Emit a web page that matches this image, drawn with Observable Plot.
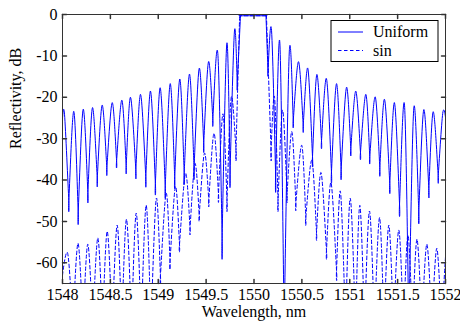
<!DOCTYPE html>
<html><head><meta charset="utf-8">
<script src="https://cdn.jsdelivr.net/npm/d3@7"></script>
<script src="https://cdn.jsdelivr.net/npm/@observablehq/plot@0.6"></script>
<style>
html,body{margin:0;padding:0;background:#fff;}
#chart{width:460px;height:322px;}
</style></head><body><div id="chart"></div>
<script>
const xTicks = [1548, 1548.5, 1549, 1549.5, 1550, 1550.5, 1551, 1551.5, 1552];
const xTickLabels = ["1548", "1548.5", "1549", "1549.5", "1550", "1550.5", "1551", "1551.5", "1552"];
const yTicks = [0, -10, -20, -30, -40, -50, -60];
const yTickLabels = ["0", "-10", "-20", "-30", "-40", "-50", "-60"];
const seriesNames = ["Uniform", "sin"];

const uniformWl = [
  1548.000, 1548.021, 1548.066, 1548.118, 1548.164, 1548.216, 1548.265, 1548.313, 1548.363, 1548.414,
  1548.463, 1548.519, 1548.565, 1548.620, 1548.665, 1548.710, 1548.766, 1548.815, 1548.870, 1548.919,
  1548.970, 1549.020, 1549.073, 1549.125, 1549.172, 1549.225, 1549.271, 1549.326, 1549.374, 1549.428,
  1549.475, 1549.525, 1549.570, 1549.622, 1549.667, 1549.716, 1549.750, 1549.796, 1549.825, 1549.859,
  1550.125, 1550.146, 1550.183, 1550.226, 1550.270, 1550.315, 1550.368, 1550.410, 1550.465, 1550.514,
  1550.562, 1550.611, 1550.656, 1550.705, 1550.757, 1550.809, 1550.862, 1550.910, 1550.966, 1551.011,
  1551.063, 1551.112, 1551.168, 1551.209, 1551.266, 1551.314, 1551.363, 1551.418, 1551.467, 1551.520,
  1551.572, 1551.617, 1551.669, 1551.721, 1551.773, 1551.826, 1551.871, 1551.924, 1551.971, 1552.000
];
const uniformDb = [
  -25.2, -24.1, -45.0, -23.4, -47.7, -22.9, -43.0, -22.5, -39.5, -21.9,
  -37.0, -21.3, -35.3, -20.7, -36.5, -20.0, -37.5, -19.3, -39.2, -18.5,
  -40.8, -17.7, -41.4, -16.7, -39.2, -15.6, -38.2, -14.4, -37.0, -13.0,
  -31.0, -11.4, -25.2, -9.4, -53.5, -7.0, -37.8, -4.0, -16.5, -0.3,
  -0.3, -13.5, -3.8, -38.8, -6.9, -75.0, -9.3, -25.5, -11.4, -26.7,
  -13.0, -34.3, -14.5, -30.5, -15.5, -38.0, -16.7, -37.4, -17.6, -32.4,
  -18.5, -33.3, -19.3, -34.3, -19.9, -37.0, -20.5, -40.8, -21.3, -45.8,
  -21.9, -75.0, -22.6, -47.5, -23.0, -42.0, -23.5, -38.9, -23.9, -24.8
];

const sinWl = [
  1548.000, 1548.055, 1548.108, 1548.162, 1548.214, 1548.264, 1548.316, 1548.369, 1548.418, 1548.467,
  1548.519, 1548.571, 1548.619, 1548.668, 1548.721, 1548.770, 1548.822, 1548.874, 1548.924, 1548.979,
  1549.023, 1549.083, 1549.123, 1549.180, 1549.222, 1549.285, 1549.332, 1549.384, 1549.428, 1549.483,
  1549.528, 1549.582, 1549.629, 1549.676, 1549.718, 1549.762, 1549.812, 1549.850, 1550.130, 1550.178,
  1550.214, 1550.251, 1550.298, 1550.345, 1550.395, 1550.437, 1550.499, 1550.541, 1550.604, 1550.653,
  1550.700, 1550.757, 1550.804, 1550.862, 1550.903, 1550.956, 1551.005, 1551.060, 1551.105, 1551.154,
  1551.206, 1551.258, 1551.311, 1551.358, 1551.408, 1551.457, 1551.512, 1551.561, 1551.608, 1551.655,
  1551.702, 1551.753, 1551.805, 1551.857, 1551.909, 1551.958, 1552.000
];
const sinDb = [
  -63.0, -57.8, -75.0, -55.3, -75.0, -55.5, -75.0, -54.0, -75.0, -52.4,
  -75.0, -50.9, -75.0, -49.5, -75.0, -48.0, -75.0, -46.1, -75.0, -44.5,
  -63.0, -43.2, -59.5, -41.6, -55.5, -38.4, -51.5, -36.0, -48.3, -33.5,
  -44.8, -28.7, -43.3, -24.0, -44.8, -20.0, -32.5, -0.3, -0.3, -32.5,
  -19.9, -44.8, -23.1, -43.3, -28.3, -45.5, -31.6, -49.0, -35.2, -52.6,
  -38.2, -57.0, -40.6, -61.8, -42.8, -75.0, -44.4, -75.0, -46.1, -75.0,
  -47.5, -75.0, -49.1, -75.0, -50.9, -75.0, -52.1, -75.0, -53.3, -75.0,
  -54.3, -75.0, -55.5, -75.0, -56.5, -75.0, -58.5
];

// Table for the line mark: each null (local minimum) and each plateau edge is
// listed twice so the cardinal curve keeps sharp nulls and rounded lobe tops.
function table(wl, db) {
  const rows = [];
  wl.forEach((w, i) => {
    const v = db[i], p = db[i - 1], n = db[i + 1];
    rows.push({wl: w, db: v});
    const inner = i > 0 && i < wl.length - 1;
    if (inner && ((v < p && v < n) || v === p || v === n)) rows.push({wl: w, db: v});
  });
  return rows;
}
const uniform = table(uniformWl, uniformDb);
const sinData = table(sinWl, sinDb);

const tickShape = {draw(context, l) { context.moveTo(0, 0); context.lineTo(0, -l); }};
const frameColor = "#333";
const blue = "#0000ff";
const font = '"Liberation Serif", "Times New Roman", Times, serif';

const plot = Plot.plot({
  width: 460, height: 322,
  marginLeft: 62, marginRight: 15, marginTop: 14, marginBottom: 39,
  style: {fontFamily: font, fontSize: "16px", color: "#000", background: "#fff", overflow: "visible"},
  x: {domain: [1548, 1552], label: null},
  y: {domain: [-65, 0], label: null},
  marks: [
    Plot.line(uniform, {x: "wl", y: "db", stroke: blue, strokeWidth: 1, curve: "cardinal", tension: 0, clip: true}),
    Plot.line(sinData, {x: "wl", y: "db", stroke: blue, strokeWidth: 1, strokeDasharray: "3.5,2.5", curve: "cardinal", tension: 0, clip: true}),
    Plot.frame({stroke: frameColor}),
    Plot.vector(xTicks, {x: d => d, frameAnchor: "bottom", length: 4, rotate: 0, anchor: "start", shape: tickShape, stroke: frameColor}),
    Plot.vector(xTicks, {x: d => d, frameAnchor: "top", length: 4, rotate: 180, anchor: "start", shape: tickShape, stroke: frameColor}),
    Plot.vector(yTicks, {y: d => d, frameAnchor: "left", length: 4, rotate: 90, anchor: "start", shape: tickShape, stroke: frameColor}),
    Plot.vector(yTicks, {y: d => d, frameAnchor: "right", length: 4, rotate: -90, anchor: "start", shape: tickShape, stroke: frameColor}),
    Plot.axisX(xTicks, {tickSize: 0, tickPadding: 5, tickFormat: d => xTickLabels[xTicks.indexOf(d)], label: null, fontSize: 16, fontFamily: font}),
    Plot.axisY(yTicks, {tickSize: 0, tickPadding: 5, tickFormat: d => yTickLabels[yTicks.indexOf(d)], label: null, fontSize: 16, fontFamily: font}),
    Plot.text(["Wavelength, nm"], {text: d => d, frameAnchor: "bottom", lineAnchor: "top", dy: 22, fontSize: 16, fontFamily: font}),
    Plot.text(["Reflectivity, dB"], {text: d => d, frameAnchor: "left", rotate: -90, dx: -47, fontSize: 16, fontFamily: font})
  ]
});
document.getElementById("chart").appendChild(plot);

// legend box
const svg = d3.select(plot);
const g = svg.append("g").attr("font-family", font).attr("font-size", 16).attr("text-anchor", "start");
g.append("rect").attr("x", 331).attr("y", 20.5).attr("width", 107).attr("height", 41)
  .attr("fill", "#fff").attr("stroke", "#000").attr("stroke-width", 1);
const rows = [{y: 32, dash: null}, {y: 50.5, dash: "3.5,2.5"}];
rows.forEach((r, i) => {
  const ln = g.append("line").attr("x1", 338).attr("x2", 363).attr("y1", r.y).attr("y2", r.y)
    .attr("stroke", blue).attr("stroke-width", 1);
  if (r.dash) ln.attr("stroke-dasharray", r.dash);
  g.append("text").attr("x", 373).attr("y", r.y + 5).attr("text-anchor", "start").attr("fill", "#000").text(seriesNames[i]);
});
</script></body></html>
